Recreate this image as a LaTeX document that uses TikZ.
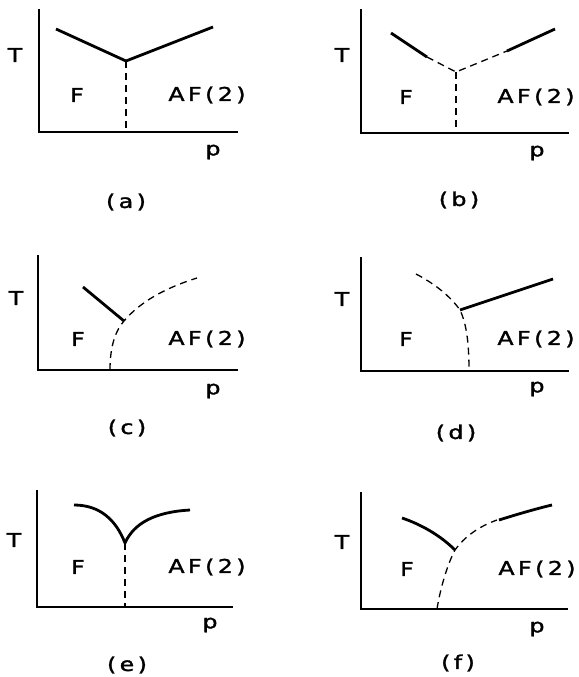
\documentclass[tikz,border=0pt]{standalone}
\usepackage{fontspec}
\newfontfamily\lettering[FakeStretch=1.25,FakeBold=1.6,LetterSpace=18]{DejaVu Sans}
\usetikzlibrary{calc}
\tikzset{
  axis/.style={line width=1.4pt},
  ph/.style={line width=2.8pt},
  phd/.style={line width=1.3pt,dash pattern=on 7pt off 5pt},
  lbl/.style={font=\lettering\fontsize{19}{21}\selectfont,inner sep=0pt},
}

\begin{document}
\begin{tikzpicture}[x=1pt,y=-1pt]
  \useasboundingbox (0,0) rectangle (578,677);
  % (a)
  \coordinate (oa) at (39,132);
  \coordinate (ta) at (39,9);
  \coordinate (pa) at (238,132);
  \coordinate (va) at (126,61);
  \draw[axis] (ta) -- (oa) -- (pa);
  \draw[ph] (56,29) -- (va) -- (213,27);
  \draw[phd] (va) -- (va |- oa);
  \node[lbl] (Ta) at (15,55) {T};
  \node[lbl] (Fa) at (77,95) {F};
  \node[lbl] (AFa) at (207,95) {AF(2)};
  \node[lbl] (xa) at (213,152) {p};
  \node[lbl] (capa) at (126,202) {(a)};
  % (b)
  \coordinate (ob) at (361,133);
  \coordinate (tb) at (361,9);
  \coordinate (pb) at (569,133);
  \coordinate (vb) at (456,72);
  \coordinate (lb) at (391,33);
  \coordinate (lbm) at (427,57);
  \coordinate (rbm) at (507,51);
  \coordinate (rb) at (555,29);
  \draw[axis] (tb) -- (ob) -- (pb);
  \draw[ph] (lb) -- (lbm);
  \draw[phd] (lbm) -- (vb) -- (rbm);
  \draw[ph] (rbm) -- (rb);
  \draw[phd] (vb) -- (vb |- ob);
  \node[lbl] (Tb) at (342,55) {T};
  \node[lbl] (Fb) at (406,97) {F};
  \node[lbl] (AFb) at (536,97) {AF(2)};
  \node[lbl] (xb) at (537,153) {p};
  \node[lbl] (capb) at (459,200) {(b)};
  % (c)
  \coordinate (oc) at (38,370);
  \coordinate (tc) at (38,255);
  \coordinate (pc) at (238,370);
  \coordinate (vc) at (124,321);
  \coordinate (bc) at (110,370);
  \draw[axis] (tc) -- (oc) -- (pc);
  \draw[ph] (83,287) -- (vc);
  \draw[phd] (bc) .. controls (110,345) and (116,330) .. (vc)
    .. controls (140,302) and (165,288) .. (197,278);
  \node[lbl] (Tc) at (16,298) {T};
  \node[lbl] (Fc) at (78,339) {F};
  \node[lbl] (AFc) at (207,339) {AF(2)};
  \node[lbl] (xc) at (213,391) {p};
  \node[lbl] (capc) at (127,428) {(c)};
  % (d)
  \coordinate (od) at (361,371);
  \coordinate (td) at (361,257);
  \coordinate (pd) at (569,371);
  \coordinate (vd) at (460,310);
  \coordinate (bd) at (469,371);
  \draw[axis] (td) -- (od) -- (pd);
  \draw[phd] (416,274) .. controls (435,284) and (450,296) .. (vd)
    .. controls (467,325) and (469,345) .. (bd);
  \draw[ph] (vd) -- (553,279);
  \node[lbl] (Td) at (342,299) {T};
  \node[lbl] (Fd) at (406,339) {F};
  \node[lbl] (AFd) at (536,339) {AF(2)};
  \node[lbl] (xd) at (537,389) {p};
  \node[lbl] (capd) at (456,433) {(d)};
  % (e)
  \coordinate (oe) at (37,607);
  \coordinate (te) at (37,490);
  \coordinate (pe) at (233,607);
  \coordinate (ve) at (125,543);
  \draw[axis] (te) -- (oe) -- (pe);
  \draw[ph,line join=round] (74,505) .. controls (100,505) and (116,520) .. (ve)
    .. controls (134,523) and (155,512) .. (190,510);
  \draw[phd] (ve) -- (ve |- oe);
  \node[lbl] (Te) at (14,540) {T};
  \node[lbl] (Fe) at (78,567) {F};
  \node[lbl] (AFe) at (207,567) {AF(2)};
  \node[lbl] (xe) at (210,625) {p};
  \node[lbl] (cape) at (127,665) {(e)};
  % (f)
  \coordinate (of) at (361,609);
  \coordinate (tf) at (361,492);
  \coordinate (pf) at (568,609);
  \coordinate (vf) at (455,550);
  \coordinate (bf) at (437,609);
  \draw[axis] (tf) -- (of) -- (pf);
  \draw[ph] (402,518) .. controls (420,524) and (440,535) .. (vf);
  \draw[phd] (bf) .. controls (440,590) and (447,565) .. (vf)
    .. controls (465,536) and (480,526) .. (497,520);
  \draw[ph] (499,520) .. controls (515,515) and (535,509) .. (552,505);
  \node[lbl] (Tf) at (342,542) {T};
  \node[lbl] (Ff) at (407,569) {F};
  \node[lbl] (AFf) at (537,569) {AF(2)};
  \node[lbl] (xf) at (537,629) {p};
  \node[lbl] (capf) at (458,663) {(f)};
\end{tikzpicture}
\end{document}
